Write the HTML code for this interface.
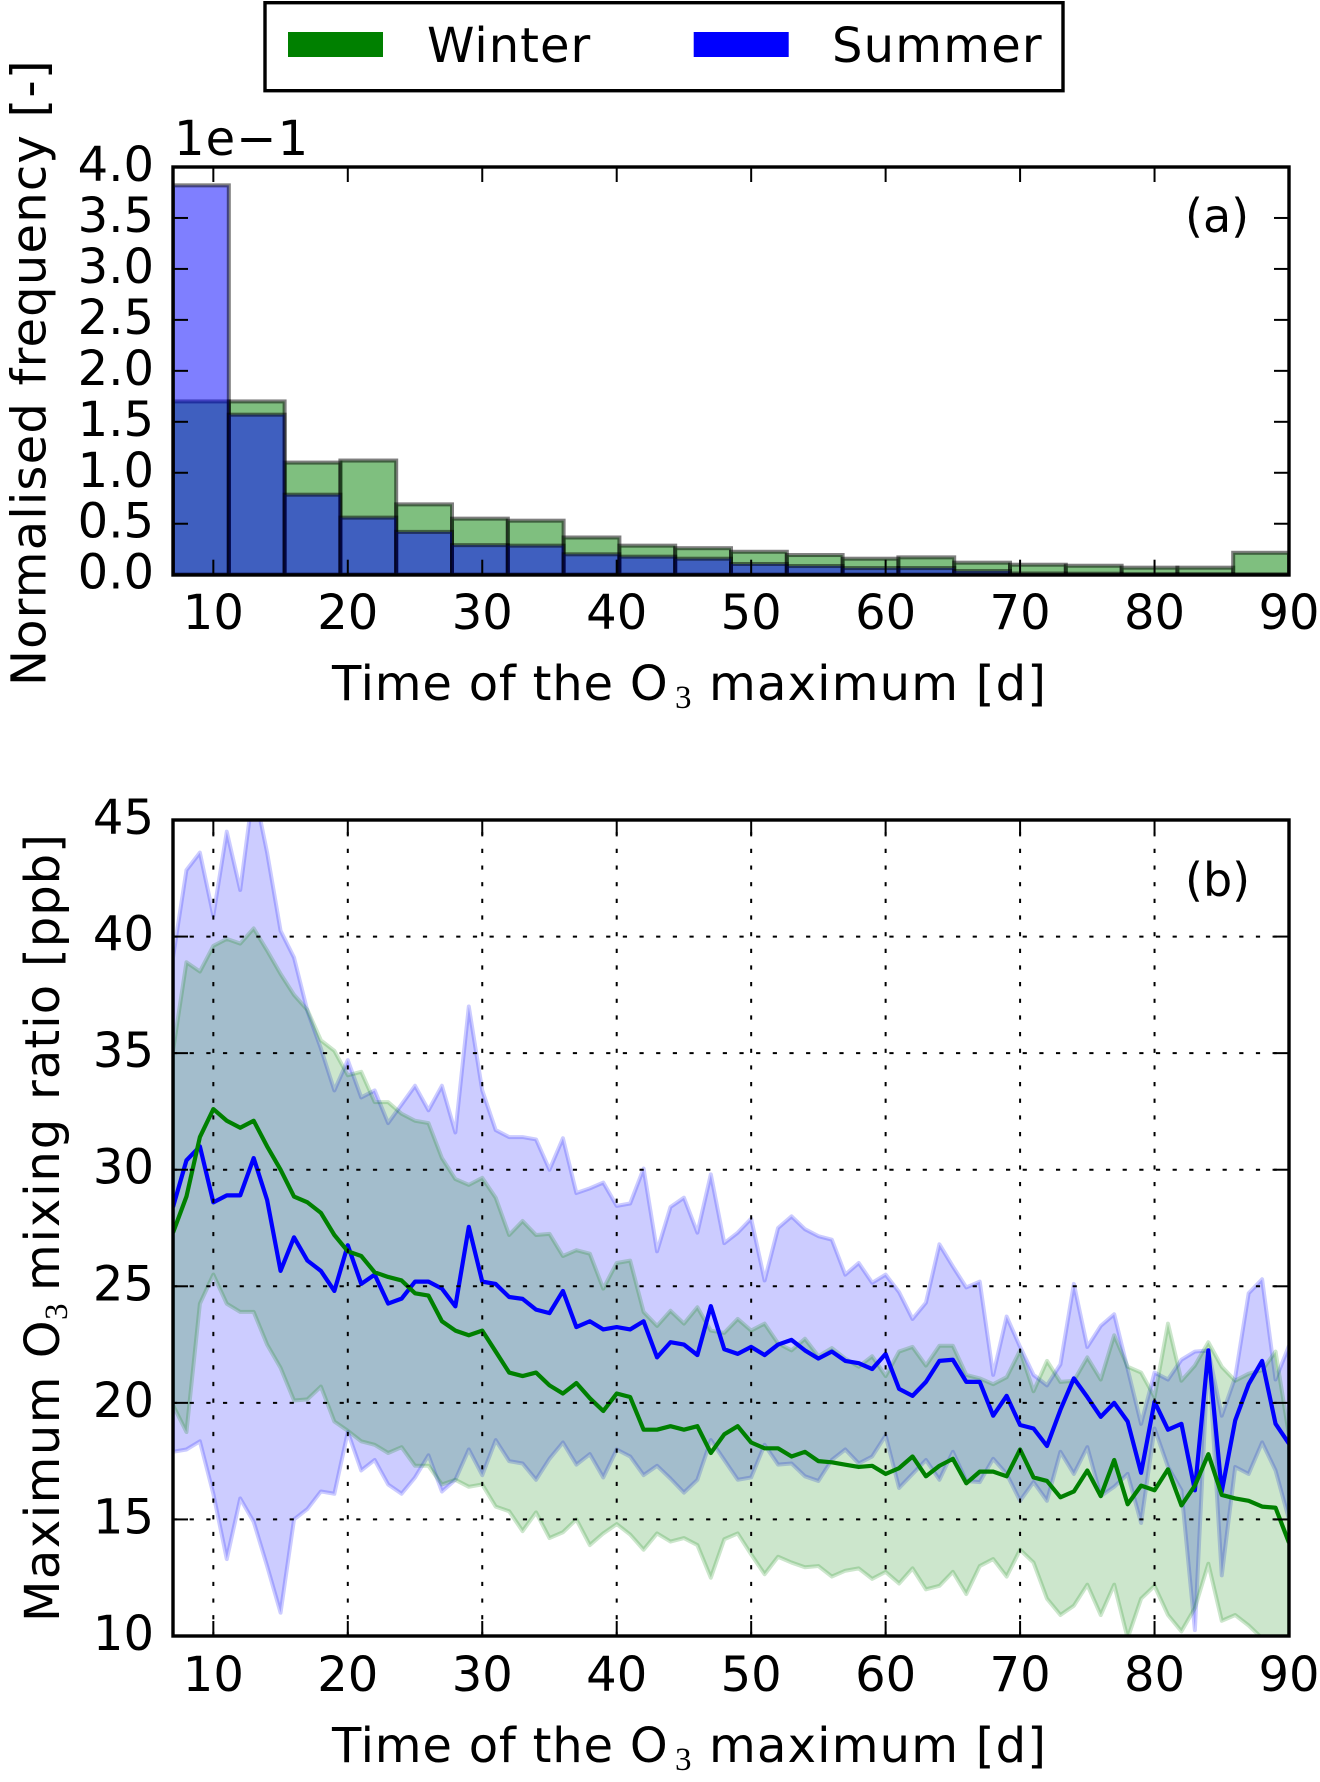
<!DOCTYPE html>
<html lang="en">
<head>
<meta charset="utf-8">
<title>Time of the O3 maximum: Winter and Summer</title>
<style>
  html, body { margin: 0; padding: 0; background: #fff; }
  svg { display: block; }
  text { font-family: "DejaVu Sans", "Liberation Sans", sans-serif; font-size: 48px; fill: #000; }
  .sub { font-family: "Liberation Serif", "DejaVu Serif", serif; font-size: 33px; letter-spacing: 0; }
  .panel-label { font-size: 46px; }
</style>
</head>
<body>
<svg id="figure" xmlns="http://www.w3.org/2000/svg" width="1320" height="1782" viewBox="0 0 1320 1782">
  <defs>
    <clipPath id="clip-a"><rect x="173" y="167" width="1116" height="408"></rect></clipPath>
    <clipPath id="clip-b"><rect x="173" y="820" width="1116" height="816"></rect></clipPath>
  </defs>
  <rect x="0" y="0" width="1320" height="1782" fill="#fff"></rect>

  <g id="panel-a">
    <g id="bars-a" clip-path="url(#clip-a)"></g>
    <g id="ticks-a"></g>
    <rect x="173" y="167" width="1116" height="408" fill="none" stroke="#000" stroke-width="3.4"></rect>
    <text x="174" y="155" letter-spacing="1.1">1e−1</text>
    <text x="1185" y="232" class="panel-label">(a)</text>
    <text x="332" y="700" letter-spacing="0.8">Time of the O<tspan class="sub" x="675" y="708">3</tspan><tspan x="709" y="700" letter-spacing="1.2">maximum [d]</tspan></text>
    <text transform="translate(45.5,686) rotate(-90)" letter-spacing="1.2">Normalised frequency [-]</text>
  </g>

  <g id="panel-b">
    <g id="bands-b" clip-path="url(#clip-b)"></g>
    <g id="lines-b" clip-path="url(#clip-b)"></g>
    <g id="grid-b"></g>
    <g id="ticks-b"></g>
    <rect x="173" y="820" width="1116" height="816" fill="none" stroke="#000" stroke-width="3.4"></rect>
    <text x="1185" y="896" class="panel-label">(b)</text>
    <text x="332" y="1762" letter-spacing="0.8">Time of the O<tspan class="sub" x="675" y="1770">3</tspan><tspan x="709" y="1762" letter-spacing="1.2">maximum [d]</tspan></text>
    <text transform="translate(59,1622) rotate(-90)" letter-spacing="1.5">Maximum O<tspan class="sub" x="302" y="8">3</tspan><tspan x="331" y="0" letter-spacing="1.9">mixing </tspan><tspan x="522" y="0" letter-spacing="1.1">ratio </tspan><tspan x="655" y="0" letter-spacing="1">[ppb]</tspan></text>
  </g>

  <g id="legend">
    <rect x="265" y="2.7" width="798" height="88" fill="#fff" stroke="#000" stroke-width="3.4"></rect>
    <rect x="288" y="32" width="95" height="25" fill="#008000"></rect>
    <text x="427" y="62" letter-spacing="1">Winter</text>
    <rect x="693.7" y="32" width="95" height="25" fill="#0000ff"></rect>
    <text x="832" y="62" letter-spacing="1.2">Summer</text>
  </g>
</svg>

<script>
// ---------- chart data ----------
const firstBinStart = 7;
const binWidth = 4.15;
const winterFreq = [1.70,1.70,1.10,1.12,0.69,0.55,0.53,0.365,0.285,0.26,0.225,0.193,0.157,0.17,0.118,0.098,0.088,0.069,0.069,0.215];
const summerFreq = [3.82,1.57,0.785,0.56,0.42,0.29,0.285,0.20,0.177,0.157,0.105,0.085,0.065,0.065,0.036,0.012,0.01,0.005,0.005,0.003];

const firstDay = 7;
// days 7-19, then 20-29, 30-39 ... 80-89, then 90
const summerMean = [
  28.4,30.4,31,28.6,28.9,28.9,30.5,28.7,25.66,27.1,26.1,25.66,24.8,
  26.76,25.1,25.5,24.26,24.47,25.2,25.2,24.9,24.14,27.55,
  25.2,25.1,24.54,24.46,24,23.85,24.8,23.25,23.5,23.15,
  23.25,23.15,23.5,21.95,22.6,22.5,22.05,24.15,22.3,22.1,
  22.4,22.05,22.5,22.7,22.25,21.9,22.2,21.8,21.7,21.45,
  22.1,20.6,20.3,20.9,21.8,21.85,20.9,20.9,19.45,20.3,
  19.05,18.9,18.15,19.7,21.05,20.25,19.4,20,19.2,17,
  20.05,18.85,19.1,16.25,22.25,16.2,19.25,20.8,21.8,19.1,
  18.25];
const winterMean = [
  27.3,28.85,31.4,32.6,32.1,31.8,32.1,31,30,28.85,28.6,28.15,27.2,
  26.5,26.3,25.6,25.4,25.25,24.7,24.6,23.5,23.1,22.9,
  23.1,22.2,21.3,21.15,21.3,20.75,20.4,20.85,20.2,19.65,
  20.4,20.25,18.85,18.85,19,18.85,19,17.85,18.65,19,
  18.3,18.05,18.05,17.7,17.9,17.5,17.45,17.35,17.25,17.3,
  16.95,17.2,17.7,16.85,17.3,17.6,16.55,17.05,17.05,16.85,
  18,16.8,16.65,15.95,16.2,17.1,16,17.55,15.65,16.45,
  16.25,17.15,15.6,16.45,17.8,16.05,15.9,15.8,15.55,15.5,
  14];
const summerUpper = [
  39.1,42.85,43.6,40.9,44.5,42,46.4,43.6,40.25,39.1,36.8,35.2,33.4,
  34.7,33.1,33.4,32,32.8,33.6,32.55,33.6,31.6,37,
  33.4,31.7,31.4,31.4,31.3,30,31.35,29,29.2,29.45,
  28.45,28.55,30.05,26.5,28.4,28.8,27.3,29.8,26.85,27.3,
  27.9,25.25,27.5,28,27.45,27.15,27,25.5,26,25.15,
  25.5,24.75,23.6,24.3,26.8,25.85,24.95,25.2,21.2,23.7,
  22.4,21.2,20.75,21.65,25.1,22.4,23.3,23.8,21.45,19.1,
  21.3,21,21.85,22.2,22.25,19.45,21.1,24.7,25.3,21,
  22.45];
const summerLower = [
  17.9,18,18.35,16.1,13.3,15.9,14.9,13,11,15,15.45,16.2,16.1,
  18.75,17.1,17.55,16.5,16.1,16.8,17.75,16.2,16.7,18,
  16.9,18.4,17.5,17.4,16.7,17.6,18.3,17.35,17.8,16.8,
  18,17.7,16.9,17.3,16.75,16.15,16.7,18.4,17.55,16.7,
  16.8,18.2,17.35,17.4,16.85,16.65,17.55,18,17.4,17.7,
  18.6,16.35,16.95,17.55,16.7,17.9,16.65,16.6,17.6,16.95,
  15.8,16.6,15.8,17.9,16.95,18.1,16,16.4,16.95,14.85,
  18.9,17.25,16.25,10.25,22.2,12.6,17.25,16.95,18.3,17.1,
  15];
const winterUpper = [
  35.1,38.9,38.5,39.6,39.9,39.7,40.35,39.4,38.4,37.5,36.85,35.55,35.1,
  34.05,34.2,32.9,32.9,32.4,32.1,32,30.5,29.6,29.35,
  29.65,28.8,27.2,27.8,27.2,27.25,26.3,26.55,26.4,24.9,
  26,26.1,23.9,23.3,23.95,23.4,24.1,23.1,23,23.6,
  23.1,23.4,22.55,22.25,22.75,22,22.35,21.9,21.55,22,
  21.15,22.2,22.4,21.6,22.45,22.45,21.2,21.05,20.8,21.1,
  22.25,20.5,21.8,20.9,20.95,21.95,21,22.9,21.55,21.3,
  20.25,23.4,20.95,21.6,22.6,21.55,20.95,21.25,21.4,22.2,
  18.6];
const winterLower = [
  19.9,18.75,24.25,25.5,24.25,23.9,23.9,22.5,21.5,20.1,20.15,20.7,19.2,
  18.8,18.35,18.2,17.85,18.1,17.3,17.3,16.5,16.7,16.4,
  16.5,15.55,15.35,14.5,15.3,14.2,14.45,15,13.9,14.4,
  14.8,14.35,13.7,14.4,14.05,14.2,13.9,12.5,14.15,14.4,
  13.5,12.65,13.4,13.15,12.95,13,12.55,12.8,12.9,12.45,
  12.75,12.25,12.9,12,12.15,12.75,11.8,13,13.3,12.55,
  13.7,13.15,11.6,10.9,11.3,12.2,10.9,12.2,9.9,11.6,
  12.15,10.9,10.2,11.2,13.1,10.65,10.9,10.45,9.9,9.4,
  8.7];

const xTicks = [10,20,30,40,50,60,70,80,90];
const xTickLabels = ['10','20','30','40','50','60','70','80','90'];
const yTicksA = [0,0.5,1,1.5,2,2.5,3,3.5,4];
const yTickLabelsA = ['0.0','0.5','1.0','1.5','2.0','2.5','3.0','3.5','4.0'];
const yTicksB = [10,15,20,25,30,35,40,45];
const yTickLabelsB = ['10','15','20','25','30','35','40','45'];

// ---------- axis functions ----------
const NS = 'http://www.w3.org/2000/svg';
const PLOT_L = 173, PLOT_R = 1289;
const A_TOP = 167, A_BOTTOM = 574.7;
const B_TOP = 820, B_BOTTOM = 1636;
const xScale = d => PLOT_L + (d - 7) / (90 - 7) * (PLOT_R - PLOT_L);
const yScaleA = v => A_BOTTOM - v / 4 * (A_BOTTOM - A_TOP);
const yScaleB = v => B_BOTTOM - (v - 10) / 35 * (B_BOTTOM - B_TOP);

function make(tag, attrs, parent) {
  const el = document.createElementNS(NS, tag);
  for (const k in attrs) el.setAttribute(k, attrs[k]);
  parent.appendChild(el);
  return el;
}

// ---------- panel (a): histogram ----------
function drawBars(values, color, seriesName) {
  const parent = document.getElementById('bars-a');
  values.forEach((v, i) => {
    const left = xScale(firstBinStart + i * binWidth);
    const right = xScale(firstBinStart + (i + 1) * binWidth);
    const el = make('rect', {
      x: left, y: yScaleA(v), width: right - left, height: yScaleA(0) - yScaleA(v),
      fill: color, 'fill-opacity': 0.5, stroke: '#000', 'stroke-opacity': 0.5, 'stroke-width': 4
    }, parent);
    
    
  });
}
drawBars(winterFreq, '#008000', 'winter');
drawBars(summerFreq, '#0000ff', 'summer');

// ---------- ticks ----------
function drawTicks(groupId, top, bottom, yTicks, yLabels, yScale, xBase) {
  const g = document.getElementById(groupId);
  const len = 15;
  xTicks.forEach((t, i) => {
    const x = xScale(t);
    const a = make('line', { x1: x, x2: x, y1: bottom, y2: bottom - len, stroke: '#000', 'stroke-width': 2 }, g);
    
    
    const b = make('line', { x1: x, x2: x, y1: top, y2: top + len, stroke: '#000', 'stroke-width': 2 }, g);
    
    
    const label = make('text', { x: x, y: xBase, 'text-anchor': 'middle' }, g);
    label.textContent = xTickLabels[i];
    
    
  });
  yTicks.forEach((t, i) => {
    const y = yScale(t);
    const a = make('line', { x1: PLOT_L, x2: PLOT_L + len, y1: y, y2: y, stroke: '#000', 'stroke-width': 2 }, g);
    
    
    const b = make('line', { x1: PLOT_R, x2: PLOT_R - len, y1: y, y2: y, stroke: '#000', 'stroke-width': 2 }, g);
    
    
    const label = make('text', { x: 154, y: y + 14, 'text-anchor': 'end' }, g);
    label.textContent = yLabels[i];
    
    
  });
}
drawTicks('ticks-a', A_TOP, A_BOTTOM, yTicksA, yTickLabelsA, yScaleA, 629);
drawTicks('ticks-b', B_TOP, B_BOTTOM, yTicksB, yTickLabelsB, yScaleB, 1691);

// ---------- panel (b): bands, lines, grid ----------
function linePoints(values) {
  return values.map((v, i) => xScale(firstDay + i).toFixed(2) + ',' + yScaleB(v).toFixed(2));
}
function drawBand(upper, lower, color, seriesName) {
  const pts = linePoints(upper).concat(linePoints(lower).reverse());
  const el = make('path', {
    d: 'M' + pts.join('L') + 'Z',
    fill: color, 'fill-opacity': 0.2, stroke: color, 'stroke-opacity': 0.2,
    'stroke-width': 4, 'stroke-linejoin': 'round'
  }, document.getElementById('bands-b'));
  
  
}
function drawLine(values, color, seriesName) {
  const el = make('polyline', {
    points: linePoints(values).join(' '),
    fill: 'none', stroke: color, 'stroke-width': 4.2, 'stroke-linejoin': 'round'
  }, document.getElementById('lines-b'));
  
  
}
drawBand(summerUpper, summerLower, '#0000ff', 'summer');
drawBand(winterUpper, winterLower, '#008000', 'winter');
drawLine(summerMean, '#0000ff', 'summer');
drawLine(winterMean, '#008000', 'winter');

const gridGroup = document.getElementById('grid-b');
xTicks.forEach(t => {
  const el = make('line', {
    x1: xScale(t), x2: xScale(t), y1: B_BOTTOM, y2: B_TOP,
    stroke: '#000', 'stroke-width': 2, 'stroke-dasharray': '4.2 12.46'
  }, gridGroup);
  
  
});
yTicksB.forEach(t => {
  const el = make('line', {
    x1: PLOT_L, x2: PLOT_R, y1: yScaleB(t), y2: yScaleB(t),
    stroke: '#000', 'stroke-width': 2, 'stroke-dasharray': '4.2 12.46'
  }, gridGroup);
  
  
});
</script>
</body>
</html>
